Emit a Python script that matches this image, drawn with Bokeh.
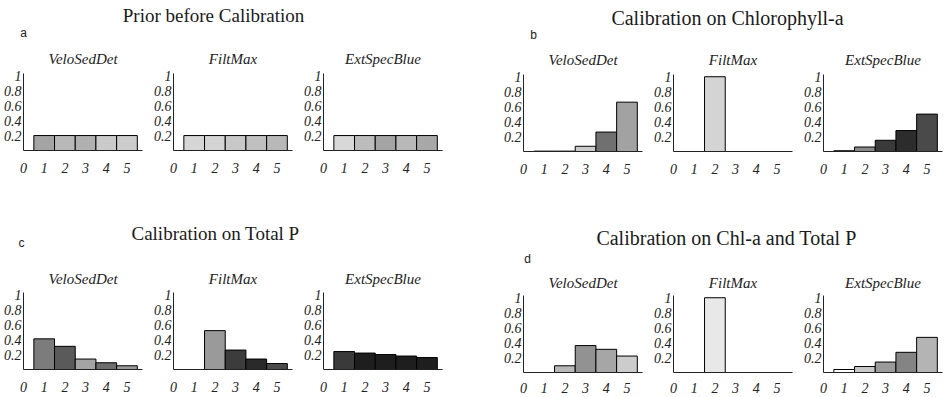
from bokeh.plotting import figure
from bokeh.layouts import row, column
from bokeh.models import Range1d, FixedTicker, Label, Spacer, ColumnDataSource
from bokeh.embed import file_html
from bokeh.resources import INLINE

# ---- data -------------------------------------------------------------
classes = [1, 2, 3, 4, 5]
xtick_values = [0, 1, 2, 3, 4, 5]
xtick_labels = ["0", "1", "2", "3", "4", "5"]
ytick_values = [0.2, 0.4, 0.6, 0.8, 1.0]
ytick_labels = ["0.2", "0.4", "0.6", "0.8", "1"]
parameters = ["VeloSedDet", "FiltMax", "ExtSpecBlue"]

panel_titles = ["Prior before Calibration", "Calibration on Chlorophyll-a",
                "Calibration on Total P", "Calibration on Chl-a and Total P"]
panel_letters = ["a", "b", "c", "d"]

# probabilities per class (1..5)
prior_velo = [0.2, 0.2, 0.2, 0.2, 0.2]
prior_filt = [0.2, 0.2, 0.2, 0.2, 0.2]
prior_ext = [0.2, 0.2, 0.2, 0.2, 0.2]

chl_velo = [0.005, 0.005, 0.07, 0.26, 0.66]
chl_filt = [0.0, 1.0, 0.0, 0.0, 0.0]
chl_ext = [0.01, 0.06, 0.15, 0.28, 0.50]

tp_velo = [0.41, 0.31, 0.14, 0.09, 0.05]
tp_filt = [0.0, 0.52, 0.26, 0.14, 0.08]
tp_ext = [0.24, 0.22, 0.20, 0.18, 0.16]

both_velo = [0.0, 0.09, 0.36, 0.31, 0.22]
both_filt = [0.0, 1.0, 0.0, 0.0, 0.0]
both_ext = [0.04, 0.08, 0.14, 0.27, 0.47]

# ---- styling: grey tone of each bar ---------------------------------
shade_prior_velo = ["#a4a4a4", "#b8b8b8", "#b0b0b0", "#cacaca", "#cccccc"]
shade_prior_filt = ["#d6d6d6", "#d4d4d4", "#c8c8c8", "#c0c0c0", "#b8b8b8"]
shade_prior_ext = ["#d8d8d8", "#bcbcbc", "#a4a4a4", "#b8b8b8", "#a8a8a8"]

shade_chl_velo = ["#ffffff", "#ffffff", "#cccccc", "#707070", "#a2a2a2"]
shade_chl_filt = ["#ffffff", "#d4d4d4", "#ffffff", "#ffffff", "#ffffff"]
shade_chl_ext = ["#2a2a2a", "#8a8a8a", "#3a3a3a", "#2c2c2c", "#4a4a4a"]

shade_tp_velo = ["#7c7c7c", "#5a5a5a", "#a4a4a4", "#6e6e6e", "#9a9a9a"]
shade_tp_filt = ["#ffffff", "#9a9a9a", "#3c3c3c", "#2a2a2a", "#4a4a4a"]
shade_tp_ext = ["#3a3a3a", "#1e1e1e", "#1e1e1e", "#1e1e1e", "#1e1e1e"]

shade_both_velo = ["#ffffff", "#b8b8b8", "#929292", "#a6a6a6", "#cccccc"]
shade_both_filt = ["#ffffff", "#e8e8e8", "#ffffff", "#ffffff", "#ffffff"]
shade_both_ext = ["#ffffff", "#c8c8c8", "#9a9a9a", "#848484", "#b4b4b4"]

ITALIC_SERIF = "'Liberation Serif'"
SERIF = "Liberation Serif"
SANS = "Liberation Sans"


def bar_panel(name, values, shades, width, height, top, bottom, left=22, right=8,
              label_standoff=12, title_standoff=12):
    p = figure(width=width, height=height, x_range=Range1d(0, 5.75),
               y_range=Range1d(0, 1.03), title=name, output_backend="svg",
               toolbar_location=None, min_border_left=left, min_border_right=right,
               min_border_top=top, min_border_bottom=bottom)
    src = ColumnDataSource(dict(x=classes, top=values, shade=shades))
    p.vbar(x="x", top="top", bottom=0, width=1.0, source=src,
           fill_color="shade", line_color="black", line_width=1)

    p.title.text_font = ITALIC_SERIF
    p.title.text_font_style = "italic"
    p.title.text_font_size = "15px"
    p.title.text_color = "#222222"
    p.title.align = "center"
    p.title.standoff = title_standoff

    p.xaxis.ticker = FixedTicker(ticks=xtick_values)
    p.xaxis.major_label_overrides = dict(zip(xtick_values, xtick_labels))
    p.yaxis.ticker = FixedTicker(ticks=ytick_values)
    p.yaxis.major_label_overrides = dict(zip(ytick_values, ytick_labels))
    for ax in (p.xaxis[0], p.yaxis[0]):
        ax.major_tick_out = 0
        ax.major_tick_in = 0
        ax.minor_tick_out = 0
        ax.minor_tick_in = 0
        ax.axis_line_color = "#222222"
        ax.axis_line_width = 1
        ax.major_label_text_font = ITALIC_SERIF
        ax.major_label_text_font_style = "italic"
        ax.major_label_text_font_size = "14px"
        ax.major_label_text_color = "#222222"
    p.xaxis.major_label_standoff = label_standoff
    p.yaxis.major_label_standoff = 2

    p.xgrid.visible = False
    p.ygrid.visible = False
    p.outline_line_color = None
    p.background_fill_color = "white"
    p.border_fill_color = "white"
    return p


def header(width, height, title, title_x, title_y, title_size,
           letter, letter_x, letter_y):
    h = figure(width=width, height=height, x_range=Range1d(0, width),
               y_range=Range1d(height, 0), output_backend="svg", toolbar_location=None,
               min_border=0, x_axis_type=None, y_axis_type=None)
    h.xgrid.visible = False
    h.ygrid.visible = False
    h.outline_line_color = None
    h.add_layout(Label(x=title_x, y=title_y, text=title, text_font=SERIF,
                       text_font_size=title_size, text_color="#1a1a1a",
                       text_align="center", text_baseline="middle"))
    h.add_layout(Label(x=letter_x, y=letter_y, text=letter, text_font=SANS,
                       text_font_size="12px", text_color="#1a1a1a",
                       text_align="center", text_baseline="middle"))
    return h


def panel_row(series, shades, widths, height, top, bottom, label_standoff=12,
              title_standoff=12):
    figs = []
    for i, (name, vals, sh) in enumerate(zip(parameters, series, shades)):
        right = widths[i] - 22 - 120
        figs.append(bar_panel(name, vals, sh, widths[i], height, top, bottom,
                              right=right, label_standoff=label_standoff,
                              title_standoff=title_standoff))
    return figs


left_w = [150, 150, 150]
right_w = [150, 150, 147]

row_a = panel_row([prior_velo, prior_filt, prior_ext],
                  [shade_prior_velo, shade_prior_filt, shade_prior_ext],
                  left_w, 138, 33, 28, title_standoff=14)
row_c = panel_row([tp_velo, tp_filt, tp_ext],
                  [shade_tp_velo, shade_tp_filt, shade_tp_ext],
                  left_w, 138, 33, 28, title_standoff=12)
row_b = panel_row([chl_velo, chl_filt, chl_ext],
                  [shade_chl_velo, shade_chl_filt, shade_chl_ext],
                  right_w, 138, 33, 28, title_standoff=14)
row_d = panel_row([both_velo, both_filt, both_ext],
                  [shade_both_velo, shade_both_filt, shade_both_ext],
                  right_w, 130, 28, 25, label_standoff=10, title_standoff=9)

head_a = header(450, 40, panel_titles[0], 213, 15, "19px", panel_letters[0], 23, 32)
head_c = header(450, 81, panel_titles[2], 215, 55, "19px", panel_letters[2], 21, 64)
head_b = header(447, 41, panel_titles[1], 227, 17, "20px", panel_letters[1], 33, 34)
head_d = header(447, 88, panel_titles[3], 226, 58, "20px", panel_letters[3], 27, 79)

left_col = column(head_a, row(*row_a), head_c, row(*row_c))
right_col = column(head_b, row(*row_b), head_d, row(*row_d))
layout = row(left_col, Spacer(width=50, height=397), right_col)

open("out.html", "w").write(file_html(layout, INLINE))
